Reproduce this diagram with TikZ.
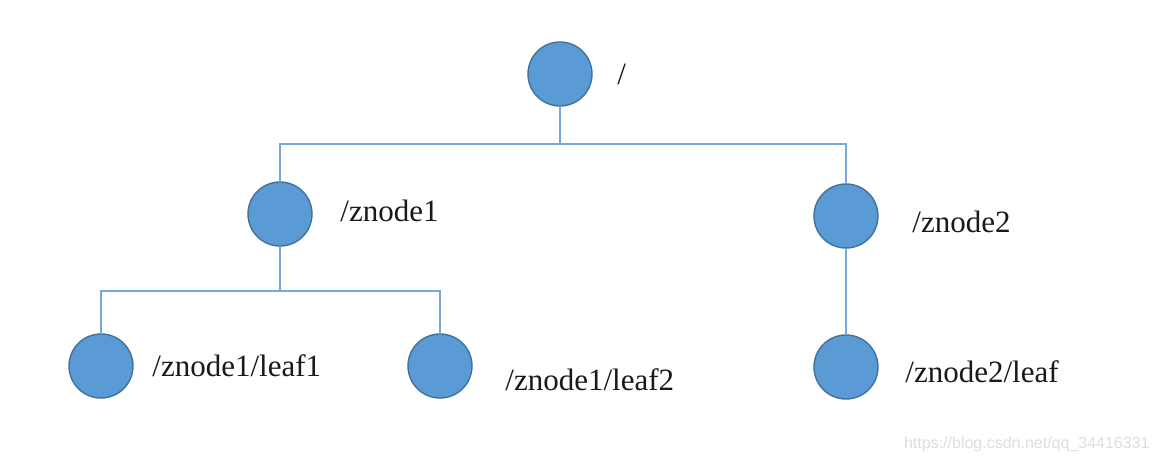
\documentclass[tikz,border=0pt]{standalone}
\usepackage{fontspec}
\setmainfont{Liberation Serif}
\newfontfamily\marksans{Liberation Sans}
\usetikzlibrary{positioning}
\definecolor{nodeblue}{HTML}{5B9BD5}
\definecolor{nodeedge}{HTML}{41719C}
\definecolor{linkblue}{HTML}{7AA7D9}
\tikzset{
  znode/.style={circle, fill=nodeblue, draw=nodeedge, line width=0.7pt, minimum size=32pt, inner sep=0},
  link/.style={linkblue, line width=0.8pt},
  pathlabel/.style={anchor=base west, inner sep=0, text=black!90, font=\fontsize{15.5}{18}\selectfont}
}

\begin{document}
\begin{tikzpicture}[x=0.5pt, y=-0.5pt]
    \useasboundingbox[fill=white] (0,0) rectangle (1158,464);
    % circles
    \node[znode] (root) at (560, 74) {};
    \node[znode] (zn1) at (280, 214) {};
    \node[znode] (zn2) at (846, 216) {};
    \node[znode] (lf1) at (101, 366) {};
    \node[znode] (lf2) at (440, 366) {};
    \node[znode] (lf3) at (846, 367) {};
    % connectors
    \coordinate (rbus) at (560, 144);
    \coordinate (z1bus) at (280, 291);
    \draw[link] (root) -- (rbus) -| (zn1);
    \draw[link] (rbus) -| (zn2);
    \draw[link] (zn1) -- (z1bus) -| (lf1);
    \draw[link] (z1bus) -| (lf2);
    \draw[link] (zn2) -- (lf3);
    % labels
    \node[pathlabel] (rootlbl) at (617, 85) {/};
    \node[pathlabel] (zn1lbl) at (340, 222) {/znode1};
    \node[pathlabel] (zn2lbl) at (912, 233) {/znode2};
    \node[pathlabel] (lf1lbl) at (152, 377) {/znode1/leaf1};
    \node[pathlabel] (lf2lbl) at (505, 391) {/znode1/leaf2};
    \node[pathlabel] (lf3lbl) at (905, 383) {/znode2/leaf};
    \node[anchor=base east, inner sep=0, text=black!13, font=\marksans\fontsize{8}{10}\selectfont] (mark) at (1150, 449) {https://blog.csdn.net/qq\_34416331};
\end{tikzpicture}
\end{document}
